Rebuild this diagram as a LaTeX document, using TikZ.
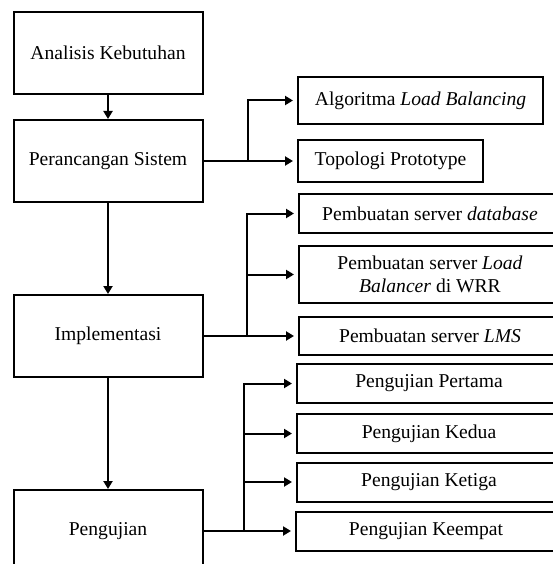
\documentclass[tikz,border=0pt]{standalone}
\usepackage{fontspec}
\setmainfont{Liberation Serif}
\usetikzlibrary{arrows.meta}

\begin{document}
\begin{tikzpicture}[x=1pt, y=-1pt,
        stage/.style={draw, line width=2pt, minimum width=189pt, minimum height=82pt, inner sep=0pt, font=\fontsize{19.6}{23.5}\selectfont},
        task/.style={draw, line width=2pt, minimum height=39pt, inner sep=0pt, align=center, font=\fontsize{19.6}{23.5}\selectfont},
        link/.style={line width=2pt},
        arr/.style={link, -{Triangle[length=8pt, width=9pt]}},
        side/.style={arr, shorten >=4pt}]

                \useasboundingbox (0, 0) rectangle (553, 564);
                \clip (0, 0) rectangle (553, 564);

                % Nodes
                \node[stage] (analisis) at (108, 53) {Analisis Kebutuhan};
                \node[stage] (rancang) at (108, 161) {Perancangan Sistem};
                \node[stage] (implementasi) at (108, 336) {Implementasi};
                \node[stage] (pengujian) at (108, 531) {Pengujian};

                \node[task, minimum width=245pt, minimum height=47pt] (algo) at (420.5, 100.5) {Algoritma \textit{Load Balancing}};
                \node[task, minimum width=185pt, minimum height=41pt] (topo) at (390.5, 161) {Topologi Prototype};
                \node[task, minimum width=262pt] (database) at (430, 213.5) {Pembuatan server \textit{database}};
                \node[task, minimum width=262pt, minimum height=57pt] (lb) at (430, 274.5) {Pembuatan server \textit{Load}\\\textit{Balancer} di WRR};
                \node[task, minimum width=262pt, minimum height=38pt] (lms) at (430, 336) {Pembuatan server \textit{LMS}};
                \node[task, minimum width=264pt] (pertama) at (429, 383.5) {Pengujian Pertama};
                \node[task, minimum width=264pt] (kedua) at (429, 433.5) {Pengujian Kedua};
                \node[task, minimum width=264pt] (ketiga) at (429, 482) {Pengujian Ketiga};
                \node[task, minimum width=260pt] (keempat) at (426, 531) {Pengujian Keempat};

                \coordinate (rancangbus) at (248, 161);
                \coordinate (implbus) at (247, 336);
                \coordinate (ujibus) at (244, 531);

                % Edges
                \draw[arr] (analisis) -- (rancang);
                \draw[arr] (rancang) -- (implementasi);
                \draw[arr] (implementasi) -- (pengujian);

                \draw[link] (rancang) -- (rancangbus);
                \draw[side] (rancangbus) |- (algo);
                \draw[side] (rancangbus) -- (topo);

                \draw[link] (implementasi) -- (implbus);
                \draw[side] (implbus) |- (database);
                \draw[side] (implbus) |- (lb);
                \draw[side] (implbus) -- (lms);

                \draw[link] (pengujian) -- (ujibus);
                \draw[side] (ujibus) |- (pertama);
                \draw[side] (ujibus) |- (kedua);
                \draw[side] (ujibus) |- (ketiga);
                \draw[side] (ujibus) -- (keempat);

\end{tikzpicture}
\end{document}
